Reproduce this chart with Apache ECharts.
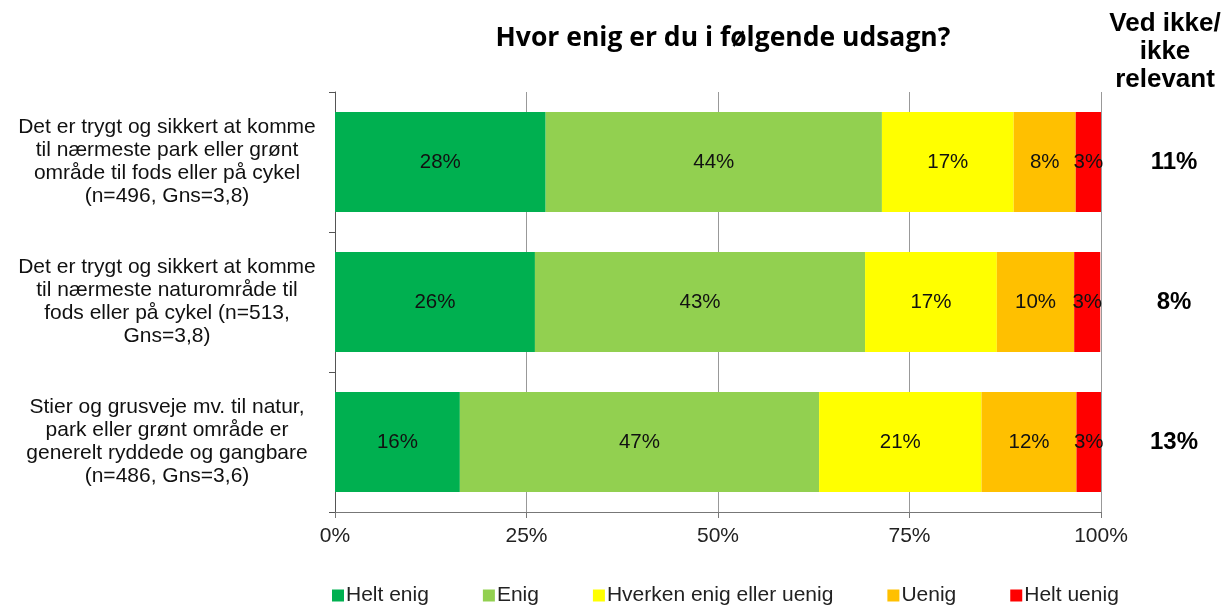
<!DOCTYPE html>
<html>
<head>
<meta charset="utf-8">
<script src="https://cdn.jsdelivr.net/npm/echarts@6/dist/echarts.min.js"></script>
<style>
  html, body { margin: 0; padding: 0; background: #fff; }
  #main { width: 1227px; height: 607px; }
</style>
</head>
<body>
<div id="main"></div>
<script>
// statements (top to bottom)
const categories = [
  'Det er trygt og sikkert at komme\ntil nærmeste park eller grønt\nområde til fods eller på cykel\n(n=496, Gns=3,8)',
  'Det er trygt og sikkert at komme\ntil nærmeste naturområde til\nfods eller på cykel (n=513,\nGns=3,8)',
  'Stier og grusveje mv. til natur,\npark eller grønt område er\ngenerelt ryddede og gangbare\n(n=486, Gns=3,6)'
]
const heltEnig = [27.5, 26.1, 16.3]
const enig = [43.9, 43.1, 46.9]
const hverken = [17.2, 17.2, 21.2]
const uenig = [8.1, 10.1, 12.4]
const heltUenig = [3.3, 3.4, 3.2]
// "Ved ikke / ikke relevant" column
const vedIkke = ['11%', '8%', '13%']
const xTicks = [0, 25, 50, 75, 100]

const font = 'Liberation Sans, Arial, sans-serif'
const chart = echarts.init(document.getElementById('main'))

const makeSeries = (name, data, color) => ({
  name: name,
  type: 'bar',
  stack: 'total',
  barWidth: 100,
  data: data,
  itemStyle: { color: color },
  label: {
    show: true,
    position: 'inside',
    color: '#111',
    fontFamily: font,
    fontSize: 20.5,
    formatter: (p) => Math.round(p.value) + '%',
  },
  emphasis: { disabled: true },
})

const option = {
  animation: false,
  title: {
    text: 'Hvor enig er du i følgende udsagn?',
    left: 718,
    top: 20,
    textAlign: 'center',
    textStyle: { fontFamily: 'Open Sans, sans-serif', fontWeight: 'bold', fontSize: 26.5, color: '#000' },
  },
  graphic: [
    {
      type: 'text',
      x: 1165,
      y: 10,
      style: {
        text: 'Ved ikke/\nikke\nrelevant',
        align: 'center',
        verticalAlign: 'top',
        fontFamily: font,
        fontWeight: 'bold',
        fontSize: 26,
        lineHeight: 28,
        fill: '#000',
      },
    },
  ],
  legend: {
    top: 580,
    left: 327,
    icon: 'rect',
    itemWidth: 12,
    itemHeight: 12,
    itemGap: 54,
    textStyle: { fontFamily: font, fontSize: 21, color: '#222', padding: [0, 0, 0, -3] },
  },
  grid: { left: 335, right: 126, top: 92, bottom: 95 },
  xAxis: {
    type: 'value',
    min: 0,
    max: 100,
    interval: 25,
    axisLine: { show: true, lineStyle: { color: '#777' } },
    axisTick: { show: true, length: 6, lineStyle: { color: '#777' } },
    splitLine: { show: true, lineStyle: { color: '#999', width: 1 } },
    axisLabel: {
      color: '#222',
      fontFamily: font,
      fontSize: 21,
      margin: 14,
      formatter: (v) => (xTicks.indexOf(v) >= 0 ? v + '%' : ''),
    },
  },
  yAxis: [
    {
      type: 'category',
      inverse: true,
      data: categories,
      axisLine: { show: true, lineStyle: { color: '#555' } },
      axisTick: { show: true, length: 6, lineStyle: { color: '#555' } },
      axisLabel: {
        color: '#111',
        fontFamily: font,
        fontSize: 21,
        lineHeight: 23,
        align: 'center',
        margin: 168,
        padding: [4, 0, 0, 0],
      },
    },
    {
      type: 'category',
      inverse: true,
      position: 'right',
      data: vedIkke,
      axisLine: { show: false },
      axisTick: { show: false },
      axisLabel: {
        color: '#000',
        fontFamily: font,
        fontWeight: 'bold',
        fontSize: 24,
        align: 'center',
        margin: 73,
      },
    },
  ],
  series: [
    makeSeries('Helt enig', heltEnig, '#00B050'),
    makeSeries('Enig', enig, '#92D050'),
    makeSeries('Hverken enig eller uenig', hverken, '#FFFF00'),
    makeSeries('Uenig', uenig, '#FFC000'),
    makeSeries('Helt uenig', heltUenig, '#FF0000'),
  ],
}
chart.setOption(option)
</script>
</body>
</html>
